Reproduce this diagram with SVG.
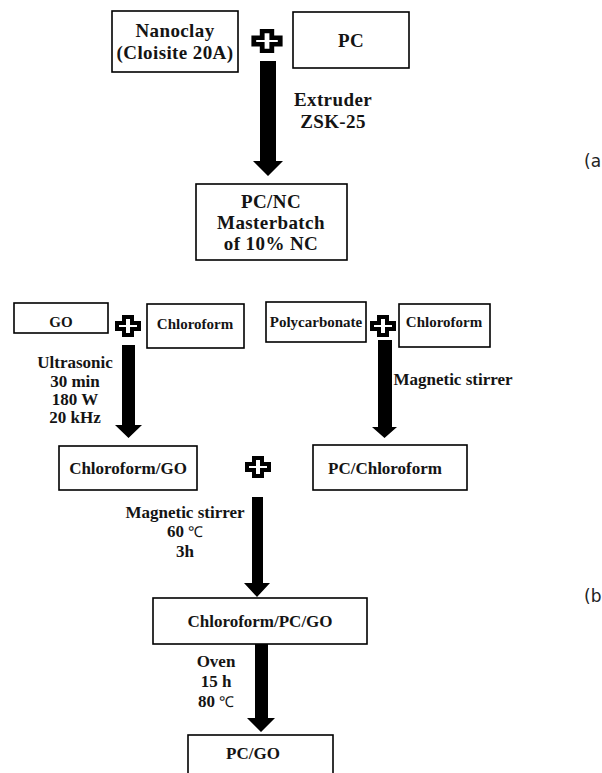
<svg xmlns="http://www.w3.org/2000/svg" width="602" height="773" viewBox="0 0 602 773">
<style>
.box{fill:#fff;stroke:#000;stroke-width:1.6}
.t{font-family:"Liberation Serif","Times New Roman",serif;font-weight:bold;fill:#141414;text-anchor:middle}
.big{font-size:19px;letter-spacing:0.4px}
.mid{font-size:17px}
.sm{font-size:15px}
.deg{font-weight:normal;font-size:15px}
.lab{font-family:"DejaVu Sans","Noto Sans",sans-serif;font-size:17px;fill:#222}
.plus{fill:#fff;stroke:#000;stroke-width:4;stroke-linejoin:miter}
.arr{fill:#000}
</style>
<defs>
<path id="plus" d="M-4,-9 H4 V-3 H11 V3 H4 V9 H-4 V3 H-11 V-3 H-4 Z"/>
</defs>
<rect width="602" height="773" fill="#fff"/>

<g id="nanoclay"><rect class="box" x="112" y="11" width="126" height="61"/>
<text class="t big" x="175" y="37">Nanoclay</text><text class="t big" x="175" y="59">(Cloisite 20A)</text></g>
<g id="pc"><rect class="box" x="293" y="12" width="116" height="56"/>
<text class="t big" x="351" y="47">PC</text></g>
<g id="masterbatch"><rect class="box" x="196" y="184" width="151" height="76"/>
<text class="t big" x="271" y="208">PC/NC</text><text class="t big" x="271" y="229">Masterbatch</text><text class="t big" x="271" y="250">of 10% NC</text></g>

<g id="go"><rect class="box" x="14" y="303" width="94" height="30"/><text class="t sm" x="61" y="327">GO</text></g>
<g id="chloroform1"><rect class="box" x="147" y="304" width="97" height="44"/><text class="t sm" x="195" y="329">Chloroform</text></g>
<g id="polycarbonate"><rect class="box" x="266" y="302" width="100" height="40"/><text class="t sm" x="316" y="327">Polycarbonate</text></g>
<g id="chloroform2"><rect class="box" x="399" y="304" width="91" height="43"/><text class="t sm" x="444" y="327">Chloroform</text></g>

<g id="chloroform-go"><rect class="box" x="59" y="446" width="138" height="44"/><text class="t mid" x="128" y="474">Chloroform/GO</text></g>
<g id="pc-chloroform"><rect class="box" x="313" y="445" width="154" height="45"/><text class="t mid" x="385" y="474">PC/Chloroform</text></g>
<g id="chloroform-pc-go"><rect class="box" x="153" y="598" width="214" height="46"/><text class="t mid" x="260" y="627">Chloroform/PC/GO</text></g>
<g id="pc-go"><rect class="box" x="188" y="735" width="145" height="45"/><text class="t mid" x="253" y="759">PC/GO</text></g>

<g id="pluses">
<use href="#plus" class="plus" transform="translate(267,41) scale(1.2,1.1)"/>
<use href="#plus" class="plus" transform="translate(128,326)"/>
<use href="#plus" class="plus" transform="translate(383,326)"/>
<use href="#plus" class="plus" transform="translate(258,467)"/>
</g>

<g id="connectors">
<path class="arr" d="M260,61 H276 V161 H283 L268,176 L253,161 H260 Z"/>
<path class="arr" d="M122,345 H135 V425 H142 L128.5,438 L115,425 H122 Z"/>
<path class="arr" d="M378,340 H392 V427 H397 L384.5,438 L372,427 H378 Z"/>
<path class="arr" d="M252,497 H263 V583 H270 L257,597 L244,583 H252 Z"/>
<path class="arr" d="M255,644 H268 V718 H275 L261,732 L247,718 H255 Z"/>
</g>

<g id="labels">
<text class="t big" x="333" y="106">Extruder</text>
<text class="t big" x="333" y="128">ZSK-25</text>
<text class="t mid" x="75" y="368">Ultrasonic</text>
<text class="t mid" x="75" y="387">30 min</text>
<text class="t mid" x="75" y="405">180 W</text>
<text class="t mid" x="75" y="423">20 kHz</text>
<text class="t mid" x="453" y="385">Magnetic stirrer</text>
<text class="t mid" x="185" y="518">Magnetic stirrer</text>
<text class="t mid" x="185" y="537">60 <tspan class="deg">℃</tspan></text>
<text class="t mid" x="185" y="557">3h</text>
<text class="t mid" x="216" y="667">Oven</text>
<text class="t mid" x="216" y="687">15 h</text>
<text class="t mid" x="216" y="707">80 <tspan class="deg">℃</tspan></text>
<text class="lab" x="584" y="167">(a</text>
<text class="lab" x="584" y="602">(b</text>
</g>
</svg>
